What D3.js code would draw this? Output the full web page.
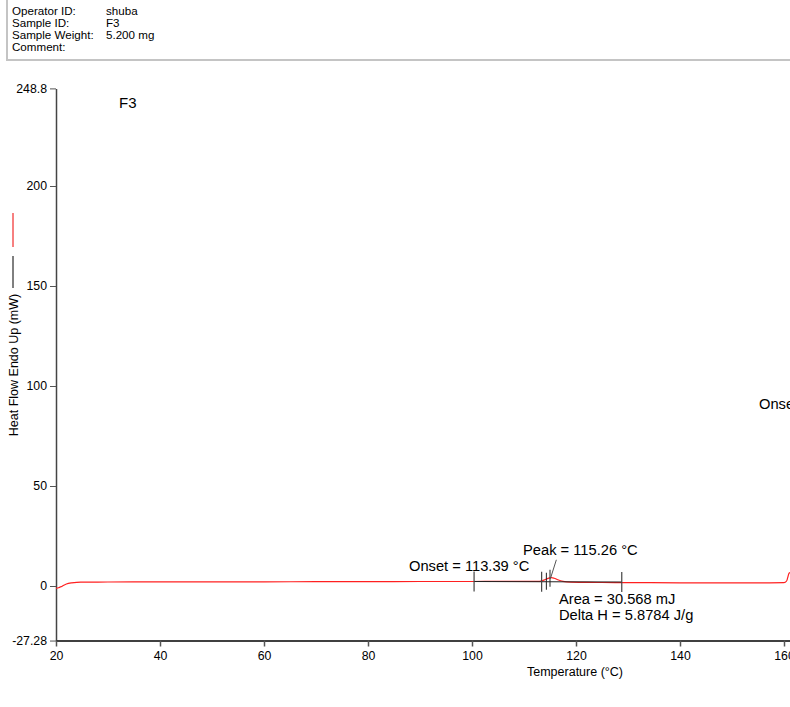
<!DOCTYPE html>
<html><head><meta charset="utf-8">
<script src="https://cdn.jsdelivr.net/npm/d3@7/dist/d3.min.js"></script>
<style>
html,body{margin:0;padding:0;background:#fff;overflow:hidden}
text{font-family:"Liberation Sans",Arial,sans-serif}
</style></head><body>
<svg id="c" width="790" height="707"></svg>
<script>
// ---- data ----
const headerLabels = ["Operator ID:", "Sample ID:", "Sample Weight:", "Comment:"];
const headerValues = ["shuba", "F3", "5.200 mg", ""];
const yTicks = [-27.28, 0, 50, 100, 150, 200, 248.8];
const xTicks = [20, 40, 60, 80, 100, 120, 140, 160];
const temps = [20, 20.5, 21, 21.5, 22, 23, 24, 25, 30, 40, 50, 60, 70, 80, 90, 100, 105, 110, 112, 113, 113.5, 114, 114.5, 115, 115.3, 115.8, 116.5, 117.5, 119, 122, 125, 130, 140, 150, 155, 160, 160.5, 161, 161.5, 162];
const heatFlow = [-1.2, -0.9, -0.3, 0.4, 1.0, 1.6, 1.85, 1.9, 2.0, 2.05, 2.1, 2.1, 2.15, 2.2, 2.25, 2.25, 2.3, 2.3, 2.3, 2.35, 2.6, 3.1, 3.7, 4.1, 4.2, 3.9, 3.1, 2.3, 1.9, 1.8, 1.75, 1.7, 1.6, 1.6, 1.6, 1.65, 2.5, 6.5, 7.0, 7.2];
const baselineT = [100.4, 128.8];
const baselineV = [2.25, 2.0];
const markerT = [113.39, 114.3, 115.0];
const peakT = 115.26, peakV = 4.1;
const onsetLabel = "Onset = 113.39 °C";
const peakLabel = "Peak = 115.26 °C";
const areaLabel = "Area = 30.568 mJ";
const deltaLabel = "Delta H = 5.8784 J/g";
const sampleName = "F3";

const svg = d3.select("#c");
const x = d3.scaleLinear().domain([20, 200]).range([56, 56 + 180 * 5.2]);
const y = d3.scaleLinear().domain([-27.28, 248.8]).range([640.56, 88.4]);

// header box
svg.append("path").attr("d", "M7,0 V60 H790").attr("fill", "none").attr("stroke", "#c4c4c4").attr("stroke-width", 2);
headerLabels.forEach((l, i) => {
  svg.append("text").attr("x", 12).attr("y", 14.5 + i * 12.2).attr("font-size", 11.6).text(l);
  svg.append("text").attr("x", 106).attr("y", 14.5 + i * 12.2).attr("font-size", 11.6).text(headerValues[i]);
});

// y axis
const yAxis = d3.axisLeft(y).tickValues(yTicks).tickSize(6).tickSizeOuter(0)
  .tickFormat(d => d === 248.8 ? "248.8" : d === -27.28 ? "-27.28" : d3.format("d")(d));
const gy = svg.append("g").attr("transform", "translate(56,0)").call(yAxis);
gy.select(".domain").attr("stroke", "#444").attr("stroke-width", 1.5);
gy.selectAll(".tick line").attr("stroke", "#555");
gy.selectAll(".tick text").attr("font-size", 12.3).attr("font-family", "Liberation Sans, Arial, sans-serif").attr("fill", "#000").attr("x", -9);

// x axis
const xAxis = d3.axisBottom(x).tickValues(xTicks).tickSize(6).tickSizeOuter(0).tickFormat(d3.format("d"));
const gx = svg.append("g").attr("transform", "translate(0,640.5)").call(xAxis);
gx.select(".domain").attr("stroke", "#000").attr("stroke-width", 1.5);
gx.selectAll(".tick line").attr("stroke", "#555").attr("stroke-width", 1.5);
gx.selectAll(".tick text").attr("font-size", 12.3).attr("font-family", "Liberation Sans, Arial, sans-serif").attr("fill", "#000").attr("y", 11);

svg.append("text").attr("x", 575).attr("y", 676).attr("text-anchor", "middle").attr("font-size", 12.5).text("Temperature (°C)");
svg.append("text").attr("transform", "translate(18,365) rotate(-90)").attr("text-anchor", "middle").attr("font-size", 12.5).text("Heat Flow Endo Up (mW)");
svg.append("line").attr("x1", 13).attr("x2", 13).attr("y1", 256).attr("y2", 288).attr("stroke", "#000").attr("stroke-width", 1);
svg.append("line").attr("x1", 13).attr("x2", 13).attr("y1", 213).attr("y2", 247).attr("stroke", "#e00").attr("stroke-width", 1);

svg.append("text").attr("x", 119).attr("y", 108).attr("font-size", 15).text(sampleName);

// curve
const line = d3.line().x((d, i) => x(temps[i])).y(d => y(d)).curve(d3.curveMonotoneX);
svg.append("path").datum(heatFlow).attr("d", line).attr("fill", "none").attr("stroke", "#ff2020").attr("stroke-width", 1.2);

// baseline
svg.append("line").attr("x1", x(baselineT[0])).attr("x2", x(baselineT[1])).attr("y1", y(baselineV[0])).attr("y2", y(baselineV[1])).attr("stroke", "#222").attr("stroke-width", 1);
const bl = d3.scaleLinear().domain(baselineT).range(baselineV);
baselineT.concat([markerT[0]]).forEach(t => {
  svg.append("line").attr("x1", x(t)).attr("x2", x(t)).attr("y1", y(bl(t)) - 10).attr("y2", y(bl(t)) + 10).attr("stroke", "#444").attr("stroke-width", 1.2);
});
markerT.slice(1).forEach((t, i) => {
  svg.append("line").attr("x1", x(t)).attr("x2", x(t)).attr("y1", y(bl(t)) - 9 - i * 3).attr("y2", y(bl(t)) + 8 - i * 3).attr("stroke", "#222").attr("stroke-width", 1);
});
// peak leader
svg.append("line").attr("x1", x(peakT) - 1).attr("y1", y(peakV) + 1).attr("x2", x(peakT) + 5).attr("y2", y(peakV) - 18).attr("stroke", "#555").attr("stroke-width", 1);

svg.append("text").attr("x", 523).attr("y", 555).attr("font-size", 14.7).text(peakLabel);
svg.append("text").attr("x", 409).attr("y", 571).attr("font-size", 14.7).text(onsetLabel);
svg.append("text").attr("x", 559).attr("y", 604).attr("font-size", 14.7).text(areaLabel);
svg.append("text").attr("x", 559).attr("y", 620).attr("font-size", 14.7).text(deltaLabel);
svg.append("text").attr("x", 759).attr("y", 409).attr("font-size", 14.7).text("Onset");
</script>
</body></html>
